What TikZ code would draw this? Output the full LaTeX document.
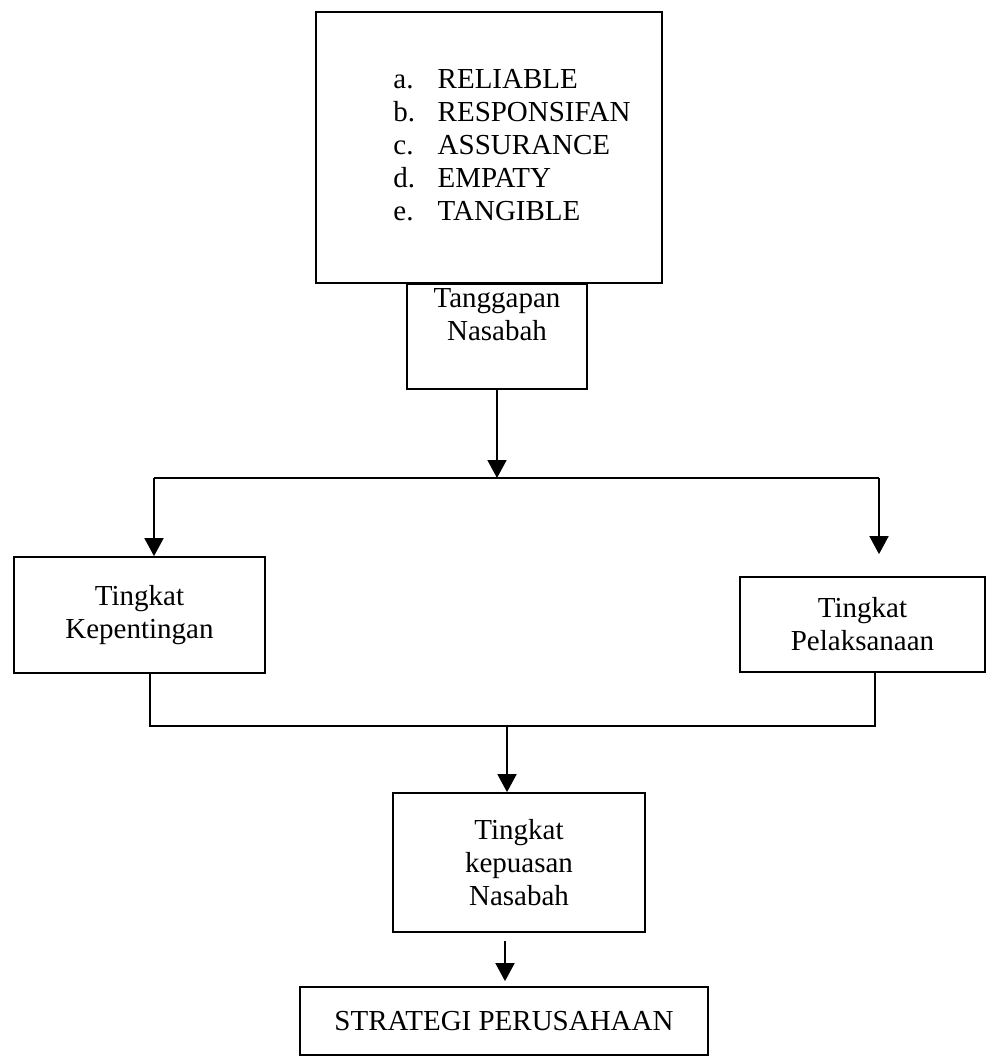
\documentclass[tikz,border=0pt]{standalone}
\usepackage{fontspec}
\setmainfont{Liberation Serif}
\usetikzlibrary{arrows.meta, positioning}

\begin{document}
\begin{tikzpicture}[x=0.02cm, y=-0.02cm,
  box/.style={draw, line width=1pt, inner sep=0pt, align=center, font=\fontsize{16.5}{18.8}\selectfont},
  link/.style={line width=1pt},
  arr/.style={link, -{Triangle[width=0.38cm, length=0.36cm]}}]
  \useasboundingbox (0,0) rectangle (988,1061);
  \node[box, minimum width=6.92cm, minimum height=5.42cm] (faktor) at (489,147.5)
    {\hspace*{0.92cm}\begin{tabular}{@{}l@{\hspace{0.45cm}}l@{}}
      a. & RELIABLE\\ b. & RESPONSIFAN\\ c. & ASSURANCE\\ d. & EMPATY\\ e. & TANGIBLE
    \end{tabular}};
  \node[box, anchor=north] (resp) at (497,283)
    {\parbox[c][2.1cm][t]{3.6cm}{\centering\strut Tanggapan\\Nasabah}};
  \node[box, minimum width=5.02cm, minimum height=2.32cm] (kep) at (139.5,615) {Tingkat\\Kepentingan};
  \node[box, minimum width=4.9cm, minimum height=1.9cm] (plk) at (862.5,624.5) {Tingkat\\Pelaksanaan};
  \node[box, minimum width=5.04cm, minimum height=2.78cm] (puas) at (519,862.5) {Tingkat\\kepuasan\\Nasabah};
  \node[box, minimum width=8.16cm, minimum height=1.36cm] (strat) at (504,1021) {STRATEGI PERUSAHAAN};
  % branch points
  \coordinate (jt) at (497,478);
  \coordinate (jl) at (154,478);
  \coordinate (jr) at (879,478);
  \coordinate (jbl) at (150,726);
  \coordinate (jbr) at (875,726);
  \coordinate (jb) at (507,726);
  \draw[arr] (resp.south) -- (jt);
  \draw[link] (jl) -- (jr);
  \draw[arr] (jl) -- (kep.north -| jl);
  \draw[arr, shorten >=0.44cm] (jr) -- (plk.north -| jr);
  \draw[link] (kep.south -| jbl) -- (jbl) -- (jbr) -- (plk.south -| jbr);
  \draw[arr] (jb) -- (puas.north -| jb);
  \draw[arr, shorten <=0.16cm, shorten >=0.1cm] ([xshift=-0.28cm]puas.south) -- ([xshift=-0.28cm]puas.south |- strat.north);
\end{tikzpicture}
\end{document}
